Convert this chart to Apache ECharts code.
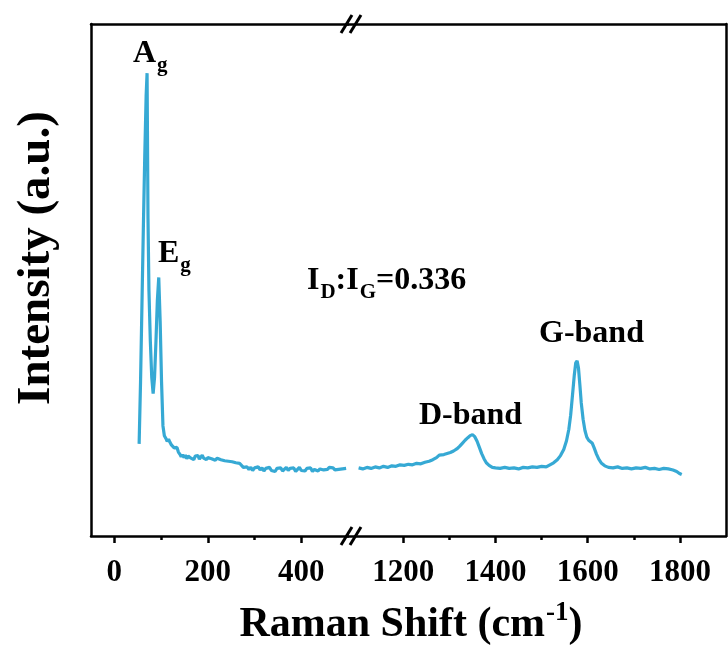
<!DOCTYPE html>
<html>
<head>
<meta charset="utf-8">
<script src="https://cdn.jsdelivr.net/npm/echarts@6/dist/echarts.min.js"></script>
<style>
  html, body { margin: 0; padding: 0; background: #fff; }
  #chart { width: 728px; height: 653px; }
</style>
</head>
<body>
<div id="chart"></div>
<script>
// Raman spectrum, low-wavenumber segment: [Raman shift (cm-1), intensity (a.u.)]
const lowShiftSpectrum = [
  [53, 18.0], [56, 30], [59, 45], [62, 60], [65, 74], [68, 86], [70, 90.4], [72, 62],
  [74, 48], [77, 38], [80, 31], [83, 27.8], [86, 31], [89, 38], [92, 46], [95, 50.5],
  [98, 42], [101, 30], [104, 21.5], [107, 19.6], [110, 19.1], [113, 18.5], [116, 18.9],
  [119, 18.3], [122, 17.8], [125, 18.1], [128, 17.2], [131, 16.9], [134, 17.3], [137, 16.4],
  [140, 16.0], [143, 15.5], [146, 15.9], [149, 15.3], [152, 15.8], [155, 15.1], [158, 15.6],
  [161, 15.9], [164, 15.2], [167, 15.4], [170, 14.9], [173, 15.6], [176, 15.3], [179, 15.7],
  [182, 15.0], [185, 15.4], [188, 15.8], [191, 15.2], [194, 15.5], [197, 14.9], [200, 15.3],
  [204, 15.6], [208, 15.1], [212, 15.4], [216, 14.8], [220, 15.2], [224, 15.5], [228, 14.9],
  [232, 15.1], [236, 14.7], [240, 15.0], [244, 14.6], [248, 14.9], [252, 14.5], [256, 14.8],
  [260, 14.3], [264, 14.6], [268, 14.2], [272, 13.9], [276, 13.4], [280, 13.1], [284, 13.5],
  [288, 13.0], [292, 13.4], [296, 12.8], [300, 13.3], [304, 13.0], [308, 13.5], [312, 12.9],
  [316, 13.3], [320, 12.7], [324, 13.2], [328, 13.0], [332, 13.4], [336, 12.8], [340, 13.1],
  [344, 12.6], [348, 13.2], [352, 12.9], [356, 13.3], [360, 12.7], [364, 13.0], [368, 13.4],
  [372, 12.8], [376, 13.2], [380, 12.9], [384, 13.3], [388, 12.6], [392, 13.0], [396, 13.4],
  [400, 12.8], [404, 13.1], [408, 12.7], [412, 13.2], [416, 12.9], [420, 13.3], [424, 12.6],
  [428, 13.0], [432, 13.2], [436, 12.7], [440, 13.1], [444, 13.4], [448, 12.9], [452, 13.2],
  [456, 13.0], [460, 13.4], [464, 13.1], [468, 13.3], [472, 12.9], [476, 13.2], [480, 13.0],
  [484, 13.3], [488, 13.1], [492, 13.0], [496, 13.2]
];

// Raman spectrum, carbon D/G band segment
const highShiftSpectrum = [
  [1103, 13.3], [1112, 13.1], [1121, 13.4], [1130, 13.2], [1139, 13.5], [1148, 13.3],
  [1157, 13.6], [1166, 13.4], [1175, 13.7], [1184, 13.6], [1193, 13.9], [1202, 13.8],
  [1211, 14.0], [1220, 13.9], [1229, 14.2], [1238, 14.1], [1247, 14.4], [1256, 14.6],
  [1264, 14.9], [1272, 15.3], [1278, 15.8], [1282, 15.5], [1288, 15.9], [1295, 16.1],
  [1302, 16.3], [1309, 16.6], [1316, 17.0], [1322, 17.5], [1328, 18.1], [1334, 18.7],
  [1340, 19.2], [1345, 19.6], [1350, 19.8], [1355, 19.4], [1360, 18.5], [1365, 17.3],
  [1370, 16.1], [1375, 15.1], [1380, 14.3], [1386, 13.8], [1393, 13.4], [1400, 13.3],
  [1410, 13.2], [1420, 13.4], [1430, 13.2], [1440, 13.3], [1450, 13.1], [1460, 13.4],
  [1470, 13.3], [1480, 13.5], [1490, 13.4], [1500, 13.6], [1510, 13.5], [1518, 13.9],
  [1526, 14.3], [1534, 14.9], [1541, 15.7], [1548, 16.9], [1554, 18.6], [1559, 20.8],
  [1563, 23.6], [1567, 27.5], [1571, 31.5], [1574, 33.8], [1577, 34.2], [1580, 32.8],
  [1583, 29.5], [1586, 26.0], [1590, 22.8], [1594, 20.6], [1598, 19.3], [1602, 18.7],
  [1606, 18.5], [1610, 18.1], [1614, 17.2], [1619, 16.0], [1624, 15.0], [1630, 14.2],
  [1637, 13.7], [1645, 13.4], [1655, 13.3], [1665, 13.5], [1675, 13.2], [1685, 13.3],
  [1695, 13.1], [1705, 13.3], [1715, 13.2], [1725, 13.4], [1735, 13.1], [1745, 13.2],
  [1755, 13.0], [1765, 13.2], [1775, 13.1], [1785, 12.9], [1793, 12.6], [1799, 12.2],
  [1804, 12.0]
];

// Axis ranges and tick positions for the broken x axis
const lowRange = [-50, 500];
const highRange = [1080, 1900];
const lowMajorTicks = [0, 200, 400];
const lowMinorTicks = [100, 300];
const highMajorTicks = [1200, 1400, 1600, 1800];
const highMinorTicks = [1300, 1500, 1700];

const FONT = '"Liberation Serif", "Times New Roman", serif';
const LINE_COLOR = '#36a9d4';
const AXIS_W = 2.5;

const chart = echarts.init(document.getElementById('chart'), null, { renderer: 'canvas' });

function frameAxis(gridIndex, position) {
  return {
    type: 'value', gridIndex, position,
    axisLine: { show: true, onZero: false, lineStyle: { color: '#000', width: AXIS_W } },
    axisTick: { show: false }, axisLabel: { show: false }, splitLine: { show: false }
  };
}

function majorAxis(gridIndex, range, ticks) {
  return {
    type: 'value', gridIndex, position: 'bottom', min: range[0], max: range[1],
    axisLine: { show: true, onZero: false, lineStyle: { color: '#000', width: AXIS_W } },
    axisTick: { show: true, customValues: ticks, length: 7, lineStyle: { color: '#000', width: AXIS_W } },
    axisLabel: {
      show: true, customValues: ticks, margin: 21,
      formatter: v => String(v),
      color: '#000', fontFamily: FONT, fontWeight: 'bold', fontSize: 31
    },
    splitLine: { show: false }
  };
}

function minorAxis(gridIndex, range, ticks) {
  return {
    type: 'value', gridIndex, position: 'bottom', min: range[0], max: range[1],
    axisLine: { show: false, onZero: false },
    axisTick: { show: true, customValues: ticks, length: 4, lineStyle: { color: '#000', width: AXIS_W } },
    axisLabel: { show: false },
    splitLine: { show: false }
  };
}

const topLow = Object.assign(frameAxis(0, 'top'), { min: lowRange[0], max: lowRange[1] });
const topHigh = Object.assign(frameAxis(1, 'top'), { min: highRange[0], max: highRange[1] });

// rich text styles for labels with subscripts / superscripts
const annRich = {
  m: { fontFamily: FONT, fontWeight: 'bold', fontSize: 32, lineHeight: 32, verticalAlign: 'top', color: '#000' },
  s: { fontFamily: FONT, fontWeight: 'bold', fontSize: 21, lineHeight: 21, verticalAlign: 'top', padding: [17, 0, 0, 1], color: '#000' }
};

function annotation(text, x, y) {
  return {
    type: 'text', x, y, silent: true,
    style: { text, rich: annRich, align: 'left', verticalAlign: 'top' }
  };
}

function breakMark(yc) {
  return [0, 9].map(dx => ({
    type: 'line', silent: true,
    shape: { x1: 341 + dx, y1: yc + 9, x2: 352 + dx, y2: yc - 9 },
    style: { stroke: '#000', lineWidth: 3 }
  }));
}

const option = {
  backgroundColor: '#fff',
  animation: false,
  grid: [
    { left: 91, top: 24, width: 257, bottom: 117 },
    { left: 348, top: 24, right: 2, bottom: 117 }
  ],
  xAxis: [
    majorAxis(0, lowRange, lowMajorTicks),
    minorAxis(0, lowRange, lowMinorTicks),
    topLow,
    majorAxis(1, highRange, highMajorTicks),
    minorAxis(1, highRange, highMinorTicks),
    topHigh
  ],
  yAxis: [
    Object.assign(frameAxis(0, 'left'), { min: 0, max: 100 }),
    Object.assign(frameAxis(1, 'right'), { min: 0, max: 100 })
  ],
  series: [
    {
      type: 'line', xAxisIndex: 0, yAxisIndex: 0, data: lowShiftSpectrum,
      showSymbol: false, symbol: 'none', smooth: false,
      lineStyle: { color: LINE_COLOR, width: 3.2 }
    },
    {
      type: 'line', xAxisIndex: 3, yAxisIndex: 1, data: highShiftSpectrum,
      showSymbol: false, symbol: 'none', smooth: false,
      lineStyle: { color: LINE_COLOR, width: 3.2 }
    }
  ],
  graphic: [
    ...breakMark(24),
    ...breakMark(536),
    annotation('{m|A}{s|g}', 133, 38),
    annotation('{m|E}{s|g}', 158, 238),
    annotation('{m|I}{s|D}{m|:I}{s|G}{m|=0.336}', 307, 265),
    annotation('{m|D-band}', 419, 400),
    annotation('{m|G-band}', 539, 318),
    {
      type: 'text', x: 411, y: 599, silent: true,
      style: {
        text: '{a|Raman Shift (cm}{b|-1}{a|)}', align: 'center', verticalAlign: 'top',
        rich: {
          a: { fontFamily: FONT, fontWeight: 'bold', fontSize: 42, lineHeight: 42, verticalAlign: 'top', padding: [5, 0, 0, 0], color: '#000' },
          b: { fontFamily: FONT, fontWeight: 'bold', fontSize: 27, lineHeight: 27, verticalAlign: 'top', padding: [1, 0, 0, 1], color: '#000' }
        }
      }
    },
    {
      type: 'text', x: 37, y: 258, rotation: Math.PI / 2, silent: true,
      style: {
        text: 'Intensity (a.u.)', align: 'center', verticalAlign: 'middle',
        fontFamily: FONT, fontWeight: 'bold', fontSize: 47, fill: '#000'
      }
    }
  ]
};

chart.setOption(option);
</script>
</body>
</html>
